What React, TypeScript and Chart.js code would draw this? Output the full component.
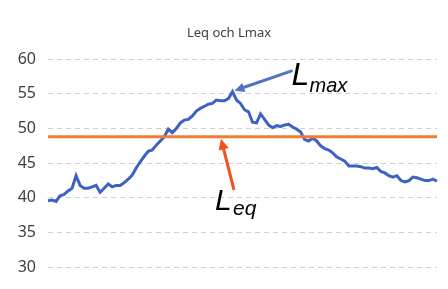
import React, { useEffect, useRef } from "react";
import { Chart, registerables } from "chart.js";

Chart.register(...registerables);

const TITLE = "Leq och Lmax";
const Y_TICKS = [30, 35, 40, 45, 50, 55, 60];
const LMAX_SERIES = [
  39.6, 39.7, 39.5, 40.3, 40.5, 41.0, 41.4, 43.2, 41.8, 41.4,
  41.4, 41.6, 41.8, 40.8, 41.4, 42.0, 41.6, 41.8, 41.8, 42.2,
  42.7, 43.3, 44.3, 45.2, 46.0, 46.7, 46.9, 47.6, 48.2, 48.8,
  49.9, 49.4, 50.0, 50.8, 51.2, 51.3, 51.8, 52.5, 52.9, 53.2,
  53.5, 53.6, 54.1, 54.0, 54.0, 54.3, 55.3, 54.1, 53.6, 52.7,
  52.4, 50.9, 50.8, 52.1, 51.3, 50.5, 50.1, 50.4, 50.3, 50.5,
  50.6, 50.2, 49.9, 49.5, 48.4, 48.2, 48.6, 48.2, 47.5, 47.1,
  46.9, 46.5, 45.9, 45.6, 45.3, 44.6, 44.6, 44.6, 44.5, 44.3,
  44.3, 44.2, 44.4, 43.8, 43.6, 43.2, 43.0, 43.2, 42.5, 42.3,
  42.5, 43.0, 42.9, 42.7, 42.5, 42.5, 42.7, 42.4,
];
const LEQ_VALUE = 48.8;
const LABELS = LMAX_SERIES.map((_, i) => String(i + 1));
const LEQ_SERIES = LMAX_SERIES.map(() => LEQ_VALUE);

const annotationPlugin = {
  id: "annotations",
  afterDraw(chart: any) {
    const ctx = chart.ctx;
    const { scales } = chart;
    const xs = scales.x;
    const ys = scales.y;
    ctx.save();
    ctx.fillStyle = "#404040";
    ctx.font = "13px 'Noto Sans'";
    ctx.textAlign = "center";
    ctx.textBaseline = "alphabetic";
    ctx.fillText(TITLE, 229, 37);

    const arrow = (x1: number, y1: number, x2: number, y2: number, color: string, head: number, w: number) => {
      const ang = Math.atan2(y2 - y1, x2 - x1);
      ctx.strokeStyle = color;
      ctx.fillStyle = color;
      ctx.lineWidth = w;
      ctx.lineCap = "butt";
      ctx.beginPath();
      ctx.moveTo(x1, y1);
      ctx.lineTo(x2 - Math.cos(ang) * head * 0.8, y2 - Math.sin(ang) * head * 0.8);
      ctx.stroke();
      ctx.beginPath();
      ctx.moveTo(x2, y2);
      ctx.lineTo(x2 - Math.cos(ang - 0.45) * head, y2 - Math.sin(ang - 0.45) * head);
      ctx.lineTo(x2 - Math.cos(ang + 0.45) * head, y2 - Math.sin(ang + 0.45) * head);
      ctx.closePath();
      ctx.fill();
    };

    let peakIdx = 0;
    LMAX_SERIES.forEach((v, i) => { if (v > LMAX_SERIES[peakIdx]) peakIdx = i; });
    const px = xs.getPixelForValue(peakIdx);
    const py = ys.getPixelForValue(LMAX_SERIES[peakIdx]);
    arrow(px + 60, py - 21, px + 2, py - 1, "#5670c4", 11, 3);

    ctx.textAlign = "left";
    ctx.fillStyle = "#000000";
    ctx.font = "italic 32px 'Liberation Sans'";
    ctx.fillText("L", px + 59, py - 7);
    ctx.font = "italic 20px 'Liberation Sans'";
    ctx.fillText("max", px + 77, py);

    const ly = ys.getPixelForValue(LEQ_VALUE);
    arrow(234, ly + 53, 221, ly + 2, "#f4511e", 12, 3);
    ctx.fillStyle = "#000000";
    ctx.font = "italic 30px 'Liberation Sans'";
    ctx.fillText("L", 215, ly + 73);
    ctx.font = "italic 21px 'Liberation Sans'";
    ctx.fillText("eq", 233, ly + 78);
    ctx.restore();
  },
};

export default function App() {
  const ref = useRef<HTMLCanvasElement>(null);
  useEffect(() => {
    const chart = new Chart(ref.current!, {
      type: "line",
      data: {
        labels: LABELS,
        datasets: [
          {
            label: "Lmax",
            data: LMAX_SERIES,
            borderColor: "#3e62c2",
            borderWidth: 3,
            pointRadius: 0,
            tension: 0,
            order: 2,
          },
          {
            label: "Leq",
            data: LEQ_SERIES,
            borderColor: "#ed7d31",
            borderWidth: 3,
            pointRadius: 0,
            order: 1,
          },
        ],
      },
      options: {
        animation: false,
        responsive: false,
        maintainAspectRatio: false,
        layout: { padding: { top: 59, bottom: 11, left: 0, right: 11 } },
        plugins: { legend: { display: false }, tooltip: { enabled: false }, title: { display: false } },
        scales: {
          x: { display: false, offset: false },
          y: {
            min: 30,
            max: 60,
            afterFit(scale: any) { scale.width = 48; },
            afterBuildTicks(scale: any) { scale.ticks = Y_TICKS.map((v) => ({ value: v })); },
            border: { display: false, dash: [5, 4] },
            grid: { color: "#d0d0d0", drawTicks: false, lineWidth: 1 },
            ticks: { color: "#404040", font: { size: 16, family: "'Noto Sans'" }, padding: 12 },
          } as any,
        },
      },
      plugins: [annotationPlugin],
    } as any);
    return () => chart.destroy();
  }, []);
  return (
    <div style={{ position: "fixed", left: 0, top: 0, width: 448, height: 289, background: "#fff" }}>
      <canvas ref={ref} width={448} height={289} style={{ width: 448, height: 289 }} />
    </div>
  );
}
